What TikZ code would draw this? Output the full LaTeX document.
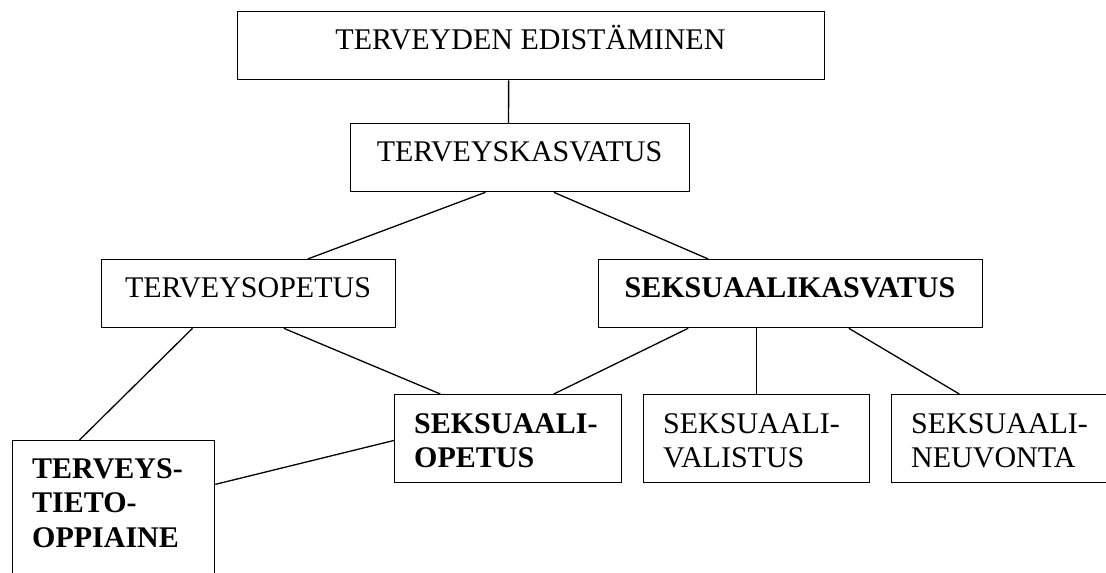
\documentclass[tikz,border=0pt]{standalone}
\usepackage{fontspec}
\setmainfont{Liberation Serif}
\usetikzlibrary{calc}
\tikzset{
  boxnode/.style={draw, line width=1.3pt, rectangle, inner sep=0pt, anchor=north west},
  conn/.style={line width=1.3pt},
  ctext/.style={inner sep=0pt, anchor=base, font=\fontsize{30}{34.5}\selectfont},
  ltext/.style={inner sep=0pt, anchor=base west, text width=200pt, align=left, font=\fontsize{30}{34.5}\selectfont},
}
\newcommand{\boxat}[5]{\node[boxnode, minimum width=#4pt-#2pt, minimum height=#5pt-#3pt] (#1) at (#2,#3) {};}
\begin{document}
\begin{tikzpicture}[x=1pt,y=-1pt]
\useasboundingbox (0,0) rectangle (1106,573);
\begin{scope}
\clip (0,0) rectangle (1106,573);
% boxes: name, left, top, right, bottom
\boxat{b1}{237}{11}{824}{79}
\boxat{b2}{350}{123}{689}{191}
\boxat{b3}{101}{259}{395}{327}
\boxat{b4}{598}{259}{982}{327}
\boxat{b5}{394}{394}{621}{482}
\boxat{b6}{643}{394}{869}{482}
\boxat{b7}{891}{394}{1110}{482}
\boxat{b8}{12}{440}{214}{580}
\end{scope}
% texts
\node[ctext] (t1) at (530.5,49) {TERVEYDEN EDISTÄMINEN};
\node[ctext] (t2) at (519.5,161) {TERVEYSKASVATUS};
\node[ctext] (t3) at (248,297) {TERVEYSOPETUS};
\node[ctext, font=\fontsize{30}{34.5}\selectfont\bfseries] (t4) at (790,297) {SEKSUAALIKASVATUS};
\node[ltext, font=\fontsize{30}{34.5}\selectfont\bfseries] (t5) at (414,433) {SEKSUAALI-\\OPETUS};
\node[ltext] (t6) at (663,433) {SEKSUAALI-\\VALISTUS};
\node[ltext] (t7) at (911,433) {SEKSUAALI-\\NEUVONTA};
\node[ltext, font=\fontsize{30}{34.5}\selectfont\bfseries] (t8) at (32,478) {TERVEYS-\\TIETO-\\OPPIAINE};
% connectors
\draw[conn] ($(b1.south west)!0.4617!(b1.south east)$) -- ($(b2.north west)!0.466!(b2.north east)$);
\draw[conn] ($(b2.south west)!0.398!(b2.south east)$) -- ($(b3.north west)!0.70!(b3.north east)$);
\draw[conn] ($(b2.south west)!0.599!(b2.south east)$) -- ($(b4.north west)!0.286!(b4.north east)$);
\draw[conn] ($(b3.south west)!0.31!(b3.south east)$) -- ($(b8.north west)!0.332!(b8.north east)$);
\draw[conn] ($(b3.south west)!0.619!(b3.south east)$) -- ($(b5.north west)!0.203!(b5.north east)$);
\draw[conn] ($(b4.south west)!0.234!(b4.south east)$) -- ($(b5.north west)!0.70!(b5.north east)$);
\draw[conn] (b4.south -| b6.north) -- (b6.north);
\draw[conn] ($(b4.south west)!0.651!(b4.south east)$) -- ($(b7.north west)!0.31!(b7.north east)$);
\draw[conn] ($(b8.north east)!0.314!(b8.south east)$) -- ($(b5.north west)!0.52!(b5.south west)$);
\end{tikzpicture}
\end{document}
